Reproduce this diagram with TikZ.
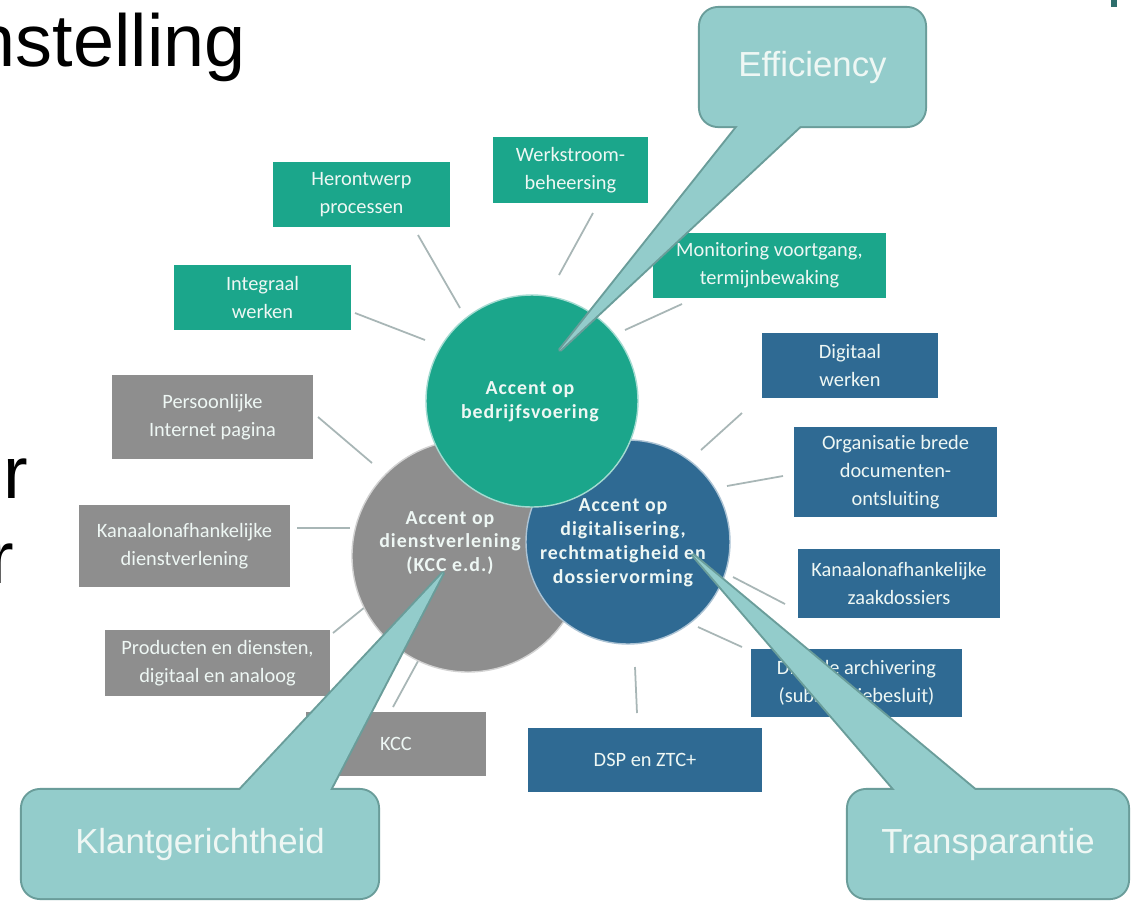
\documentclass[tikz,border=0pt]{standalone}
\usepackage{fontspec}
\setmainfont[Ligatures={NoCommon}]{Carlito}
\newfontfamily\arialf[Ligatures={NoCommon}]{Liberation Sans}
\newfontfamily\circf[LetterSpace=5,Ligatures={NoCommon}]{Carlito}
\definecolor{cgreen}{HTML}{1BA68B}
\definecolor{cblue}{HTML}{2F6A93}
\definecolor{cgray}{HTML}{8E8E8E}
\definecolor{calfill}{HTML}{93CCCB}
\definecolor{calline}{HTML}{6A9D9A}
\definecolor{cline}{HTML}{A8B6B6}
\definecolor{ctxt}{HTML}{EEF7F4}
\definecolor{cbar}{HTML}{2E6E6C}
\newcommand{\boxfont}{\fontsize{11.6}{15.8}\selectfont}
\newcommand{\circfont}{\circf\bfseries\fontsize{11.3}{13.6}\selectfont}
\newcommand{\callfont}{\arialf\fontsize{19.8}{24}\selectfont}
\newcommand{\bigfont}{\arialf\fontsize{42}{48}\selectfont}
% \pbox{name}{style}{x1}{y1}{x2}{y2}{text}
\newcommand{\pbox}[7]{\node[#2, minimum width={(#5-#3)*0.02cm}, minimum height={(#6-#4)*0.02cm}] (#1) at ({(#3+#5)/2},{(#4+#6)/2}) {#7};}
\begin{document}
\begin{tikzpicture}[x=0.02cm,y=-0.02cm,
  box/.style={rectangle, inner sep=0pt, align=center, text=ctxt, font=\boxfont},
  gbox/.style={box, fill=cgreen},
  bbox/.style={box, fill=cblue},
  ybox/.style={box, fill=cgray},
  link/.style={draw=cline, line width=1pt},
  circ/.style={circle, inner sep=0pt, draw=white!60!#1, line width=0.8pt, fill=#1},
  ctext/.style={align=center, text=ctxt, font=\circfont},
  callbox/.style={rectangle, rounded corners=0.36cm, fill=calfill, text=ctxt, font=\callfont, inner sep=0pt},
  callborder/.style={draw=calline, line width=2.3pt, rounded corners=0.36cm},
  tailborder/.style={draw=calline, line width=2.3pt, line join=round},
  bigtext/.style={font=\bigfont, text=black, inner sep=0pt}
]
\useasboundingbox (0,0) rectangle (1146,904);
\fill[white] (0,0) rectangle (1146,904);

% slide title fragments (cut at the left edge, as in the reference)
\node[bigtext, anchor=base east] (title) at (246,66) {nstelling};
\node[bigtext, anchor=base east] (r1) at (28,498) {r};
\node[bigtext, anchor=base east] (r2) at (14,583) {r};
\fill[cbar] (1111,0) rectangle (1117,7);

% green boxes
\pbox{hero}{gbox}{273}{162}{450}{227}{Herontwerp\\processen}
\pbox{werk}{gbox}{493}{137}{648}{203}{Werkstroom-\\beheersing}
\pbox{integ}{gbox}{174}{265}{351}{330}{Integraal\\werken}
\pbox{monit}{gbox}{653}{233}{886}{298}{Monitoring voortgang,\\termijnbewaking}
% blue boxes
\pbox{digw}{bbox}{762}{333}{938}{398}{Digitaal\\werken}
\pbox{org}{bbox}{794}{427}{997}{517}{Organisatie brede\\documenten-\\ontsluiting}
\pbox{kzaak}{bbox}{798}{549}{1000}{618}{Kanaalonafhankelijke\\zaakdossiers}
\pbox{darch}{bbox}{751}{649}{962}{717}{Digitale archivering\\(substitutiebesluit)}
\pbox{dsp}{bbox}{528}{728}{762}{792}{DSP en ZTC+}
% gray boxes
\pbox{pers}{ybox}{112}{375}{313}{459}{Persoonlijke\\Internet pagina}
\pbox{kdienst}{ybox}{79}{505}{290}{587}{Kanaalonafhankelijke\\dienstverlening}
\pbox{prod}{ybox}{105}{630}{330}{696}{Producten en diensten,\\digitaal en analoog}
\pbox{kcc}{ybox}{306}{712}{486}{776}{KCC}

% connector end points
\coordinate (heroA) at (418,235); \coordinate (heroB) at (460,308);
\coordinate (werkA) at (593,213); \coordinate (werkB) at (559,275);
\coordinate (integA) at (355,313); \coordinate (integB) at (425,340);
\coordinate (monitA) at (682,304); \coordinate (monitB) at (625,330);
\coordinate (digwA) at (742,413); \coordinate (digwB) at (701,450);
\coordinate (orgA) at (783,476); \coordinate (orgB) at (727,486);
\coordinate (kzaakA) at (785,604); \coordinate (kzaakB) at (733,577);
\coordinate (darchA) at (742,647); \coordinate (darchB) at (698,627);
\coordinate (dspA) at (637,713); \coordinate (dspB) at (635,667);
\coordinate (persA) at (318,417); \coordinate (persB) at (372,463);
\coordinate (kdienstA) at (297,528); \coordinate (kdienstB) at (350,528);
\coordinate (prodA) at (333,633); \coordinate (prodB) at (365,607);
\coordinate (kccA) at (393,707); \coordinate (kccB) at (423,652);
\foreach \n in {hero,werk,integ,monit,digw,org,kzaak,darch,dsp,pers,kdienst,prod,kcc}
  \draw[link] (\n A) -- (\n B);

% circles
\node[circ=cgray, minimum size={232*0.02cm}] (cgr) at (468,556) {};
\node[circ=cblue, minimum size={204*0.02cm}] (cbl) at (628,542) {};
\node[circ=cgreen, minimum size={212*0.02cm}] (cgn) at (532,401) {};
\node[ctext] (tgr) at (450,543) {Accent op\\dienstverlening\\(KCC e.d.)};
\node[ctext] (tbl) at (623,543) {Accent op\\digitalisering,\\rechtmatigheid en\\dossiervorming};
\node[ctext] (tgn) at (530,402) {Accent op\\bedrijfsvoering};

% callouts: tips
\coordinate (effTip) at (560,350);
\coordinate (klTip) at (443,573);
\coordinate (trTip) at (693,555);

% borders first
\draw[callborder] (700,8) rectangle (925,126);
\draw[tailborder] (738,126) -- (effTip) -- (800,126);
\draw[callborder] (22,790) rectangle (378,898);
\draw[tailborder] (240,790) -- (klTip) -- (330,790);
\draw[callborder] (848,790) rectangle (1128,898);
\draw[tailborder] (895,790) -- (trTip) -- (975,790);
% fills
\fill[calfill] (738,126) -- (effTip) -- (800,126) -- (800,115) -- (738,115) -- cycle;
\fill[calfill] (240,790) -- (klTip) -- (330,790) -- (330,800) -- (240,800) -- cycle;
\fill[calfill] (895,790) -- (trTip) -- (975,790) -- (975,800) -- (895,800) -- cycle;
\pbox{eff}{callbox}{700}{8}{925}{126}{Efficiency}
\pbox{klant}{callbox}{22}{790}{378}{898}{Klantgerichtheid}
\pbox{transp}{callbox}{848}{790}{1128}{898}{Transparantie}
\end{tikzpicture}
\end{document}
